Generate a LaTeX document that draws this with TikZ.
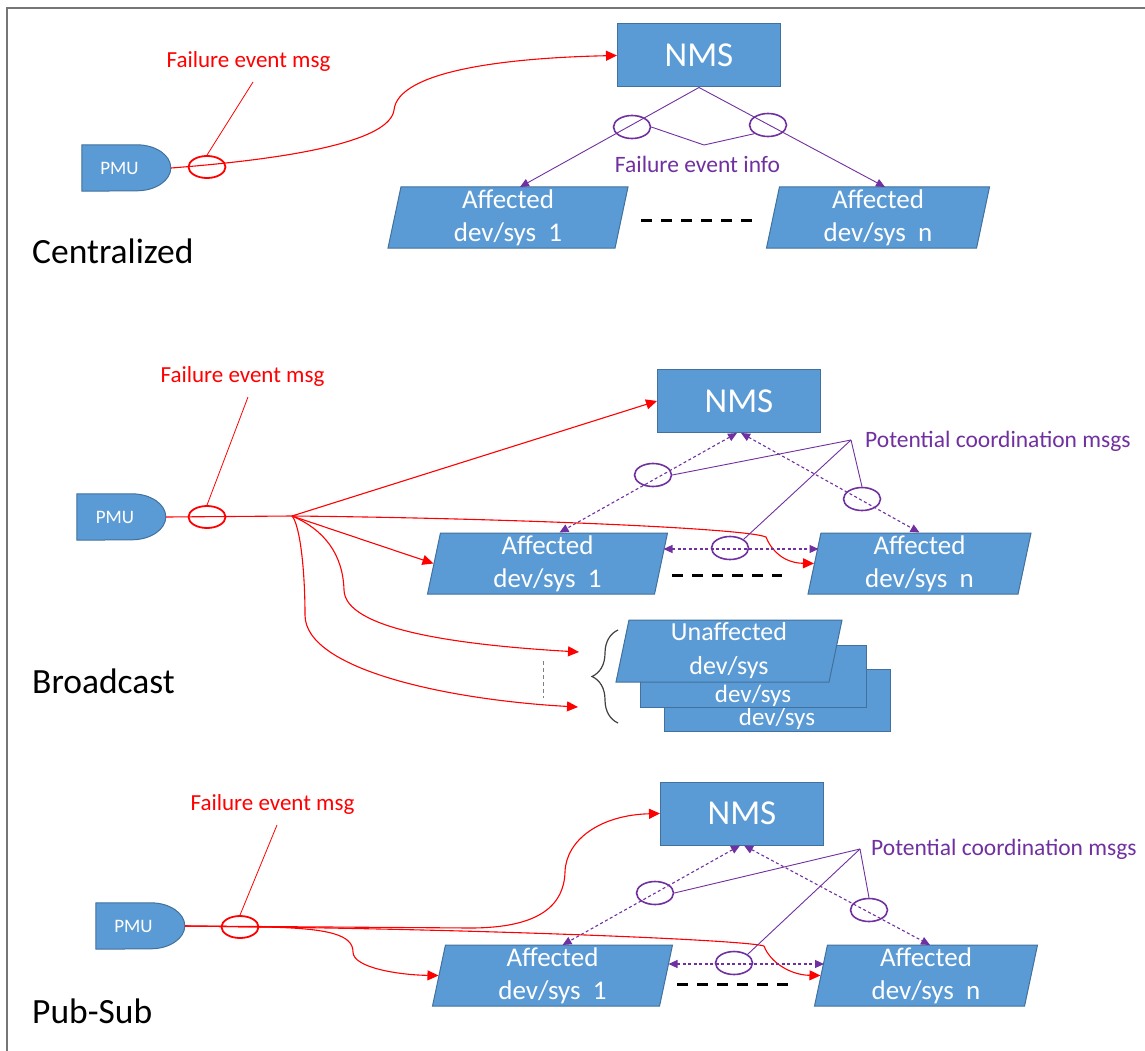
\documentclass[tikz,border=0pt]{standalone}
\usepackage{fontspec}
\setmainfont{Carlito}
\usetikzlibrary{shapes.geometric,arrows.meta,calc,decorations.pathreplacing}

\definecolor{boxfill}{HTML}{5B9BD5}
\definecolor{boxedge}{HTML}{41719C}
\definecolor{msgred}{HTML}{FF0000}
\definecolor{coordpurple}{HTML}{7030A0}
\definecolor{framegray}{HTML}{767676}

\newcommand{\pxfont}[2]{\fontsize{#1pt}{#2pt}\selectfont}
% PMU outline: flat left part, half-ellipse on the right
\newcommand{\pmubody}[1]{%
  \draw[fill=boxfill, draw=boxedge, line width=1pt]
    (#1.north west) -- ++(55,0)
    arc[start angle=-90, end angle=90, x radius=34, y radius=23]
    -- (#1.south west) -- cycle;}

\begin{document}
\begin{tikzpicture}[x=1pt, y=-1pt,
  title/.style={font=\pxfont{35.5}{42}, inner sep=0pt, anchor=base west},
  redlabel/.style={text=msgred, font=\pxfont{23}{27}, inner sep=0pt, anchor=base},
  purplabel/.style={text=coordpurple, font=\pxfont{23.5}{27}, inner sep=0pt},
  nmsbox/.style={rectangle, fill=boxfill, draw=boxedge, line width=1pt, text=white,
    minimum width=163pt, minimum height=63pt, inner sep=0pt, font=\pxfont{35}{40}},
  devbox/.style={trapezium, trapezium left angle=77, trapezium right angle=103,
    trapezium stretches body, fill=boxfill, draw=boxedge, line width=1pt, text=white,
    minimum height=61pt, inner sep=0pt, align=center, font=\pxfont{27}{33}},
  pmuanchor/.style={rectangle, minimum width=89pt, minimum height=46pt, inner sep=0pt},
  pmutext/.style={text=white, font=\pxfont{19}{22}, inner sep=0pt},
  devtext/.style={text=white, font=\pxfont{25}{30}, inner sep=0pt,
    text height=15pt, text depth=4pt},
  redring/.style={ellipse, draw=msgred, line width=1.8pt, minimum width=37pt,
    minimum height=22pt, inner sep=0pt},
  purpring/.style={ellipse, draw=coordpurple, line width=1.6pt, minimum width=37pt,
    minimum height=23pt, inner sep=0pt},
  redline/.style={draw=msgred, line width=1.1pt},
  redarrow/.style={redline, -{Triangle[length=11pt, width=10pt]}},
  redthin/.style={draw=msgred, line width=0.8pt},
  purparrow/.style={draw=coordpurple, line width=0.9pt, -{Triangle[length=9pt, width=8pt]}},
  coorddash/.style={draw=coordpurple, line width=1.1pt, dash pattern=on 3pt off 2.5pt,
    {Triangle[length=9pt, width=8pt]}-{Triangle[length=9pt, width=8pt]}},
  purpthin/.style={draw=coordpurple, line width=0.9pt},
  dashrow/.style={draw=black, line width=3pt, dash pattern=on 11pt off 9pt}
]
\useasboundingbox (0,0) rectangle (1145,1051);
\draw[framegray, line width=2.5pt] (7,1051) -- (7,8) -- (1145,8);

% ---------------- Centralized ----------------
\node[title] (tcent) at (32,263) {Centralized};
\node[redlabel] (lbl1) at (248.5,68) {Failure event msg};
\coordinate (tip1) at (253,82);

\node[pmuanchor] (pmu1) at (126.5,168) {};
\pmubody{pmu1}
\node[pmutext] (pmu1t) at (119.5,168) {PMU};
\node[redring] (ring1) at (207,167) {};

\node[nmsbox] (nms1) at (699,55.5) {NMS};
\node[devbox, minimum width=240pt] (aff1a) at (508,217.5) {Affected\\dev/sys~ 1};
\node[devbox, minimum width=223pt] (affn1) at (878,217.5) {Affected\\dev/sys~ n};
\draw[dashrow] (641,220) -- (752,220);

\draw[redarrow] (pmu1.east) .. controls (300,158) and (390,140) .. (394,110)
  .. controls (398,72) and (500,58) .. (nms1.west);
\draw[redthin] (ring1.north) -- (tip1);

\draw[purparrow] (nms1.south) -- ($(aff1a.center)+(12,-30.5)$);
\draw[purparrow] (nms1.south) -- ($(affn1.center)+(7,-30.5)$);
\node[purpring] (ring1l) at (632,127) {};
\node[purpring] (ring1r) at (768,125) {};
\coordinate (knee1) at (704,145);
\draw[purpthin] (ring1l.east) -- (knee1) -- (ring1r.south west);
\node[purplabel, anchor=base] (info1) at (697.5,173) {Failure event info};

% ---------------- Broadcast ----------------
\node[title] (tbroad) at (32,693) {Broadcast};
\node[redlabel] (lbl2) at (242.5,382) {Failure event msg};
\coordinate (tip2) at (248,397);

\node[pmuanchor] (pmu2) at (121.5,517) {};
\pmubody{pmu2}
\node[pmutext] (pmu2t) at (115,517) {PMU};
\node[redring] (ring2) at (207,517) {};

\node[nmsbox] (nms2) at (739,401) {NMS};
\node[devbox, minimum width=240pt] (aff1b) at (547.5,563.5) {Affected\\dev/sys~ 1};
\node[devbox, minimum width=223pt] (affn2) at (919.5,563.5) {Affected\\dev/sys~ n};
\draw[dashrow] (672,575) -- (782,575);

% stack of unaffected devices, back to front
\node[devbox, minimum width=226pt, minimum height=62pt] (un3) at (777,700) {};
\node[devtext] (un3t) at (777,720) {dev/sys};
\node[devbox, minimum width=226pt, minimum height=62pt] (un2) at (753,676) {};
\node[devtext] (un2t) at (753,697) {dev/sys};
\node[devbox, minimum width=226pt, minimum height=62pt, font=\pxfont{26}{34}] (un1) at (729,651) {Unaffected\\dev/sys};

\coordinate (j2) at (292,516);
\coordinate (u1) at (579,652);
\coordinate (u2) at (578,707);
\draw[redline] (pmu2.east) -- (j2);
\draw[redthin] (ring2.north) -- (tip2);
\draw[redarrow] (j2) -- (nms2.west);
\draw[redarrow] (j2) -- (aff1b.west);
\draw[redarrow] (j2) .. controls (500,518) and (745,528) .. (766,537)
  .. controls (772,552) and (785,563) .. (affn2.west);
\draw[redarrow] (j2) .. controls (325,530) and (343,555) .. (344,590)
  .. controls (345,630) and (460,645) .. (u1);
\draw[redarrow] (j2) .. controls (300,525) and (305,570) .. (305,615)
  .. controls (305,670) and (450,700) .. (u2);
\draw[gray, line width=1pt, dash pattern=on 4pt off 3pt] (543,661) -- (543,698);
\draw[draw=black!75, line width=1.2pt, decorate, decoration={brace, amplitude=26pt}]
  (618,723) -- (618,630);

\draw[coorddash] ($(nms2.south)+(-2,0)$) -- ($(aff1b.center)+(12,-31)$);
\draw[coorddash] ($(nms2.south)+(2,0)$) -- ($(affn2.center)+(0,-31)$);
\draw[coorddash] ($(aff1b.center)+(116,-14.5)$) -- ($(affn2.center)+(-101,-14.5)$);
\node[purpring] (ring2a) at (653,475) {};
\node[purpring] (ring2b) at (862,499) {};
\node[purpring] (ring2m) at (730,548) {};
\coordinate (q2) at (851,440);
\draw[purpthin] (q2) -- (ring2a.east);
\draw[purpthin] (q2) -- (ring2m.north east);
\draw[purpthin] (q2) -- (ring2b.north);
\node[purplabel, anchor=base west] (pot2) at (865,447) {Potential coordination msgs};

% ---------------- Pub-Sub ----------------
\node[title] (tpub) at (32,1023) {Pub-Sub};
\node[redlabel] (lbl3) at (272.5,810) {Failure event msg};
\coordinate (tip3) at (277,825);

\node[pmuanchor] (pmu3) at (140.5,926) {};
\pmubody{pmu3}
\node[pmutext] (pmu3t) at (133.5,926) {PMU};
\node[redring] (ring3) at (240,927) {};

\node[nmsbox] (nms3) at (742,813.5) {NMS};
\node[devbox, minimum width=240pt] (aff1c) at (552.5,975.5) {Affected\\dev/sys~ 1};
\node[devbox, minimum width=223pt] (affnc) at (926,975.5) {Affected\\dev/sys~ n};
\draw[dashrow] (677,984) -- (788,984);

\draw[redthin] (ring3.north) -- (tip3);
\draw[redarrow] (pmu3.east) -- (470,928) .. controls (540,928) and (564,905) .. (565,872)
  .. controls (566,840) and (600,815) .. (nms3.west);
\draw[redarrow] (pmu3.east) -- (262,927) .. controls (500,930) and (745,940) .. (764,946)
  .. controls (770,962) and (790,975) .. (affnc.west);
\draw[redarrow] (pmu3.east) -- (262,927) .. controls (330,928) and (353,935) .. (353,952)
  .. controls (353,968) and (400,975) .. (aff1c.west);

\draw[coorddash] ($(nms3.south)+(-2,0)$) -- ($(aff1c.center)+(10,-30.5)$);
\draw[coorddash] ($(nms3.south)+(2,0)$) -- ($(affnc.center)+(4,-30.5)$);
\draw[coorddash] ($(aff1c.center)+(116,-11.5)$) -- ($(affnc.center)+(-102,-11.5)$);
\node[purpring] (ring3a) at (655,893) {};
\node[purpring] (ring3b) at (869,910) {};
\node[purpring] (ring3m) at (734,963) {};
\coordinate (q3) at (860,849);
\draw[purpthin] (q3) -- (ring3a.east);
\draw[purpthin] (q3) -- (ring3m.north east);
\draw[purpthin] (q3) -- (ring3b.north);
\node[purplabel, anchor=base west] (pot3) at (871,855) {Potential coordination msgs};
\end{tikzpicture}
\end{document}
